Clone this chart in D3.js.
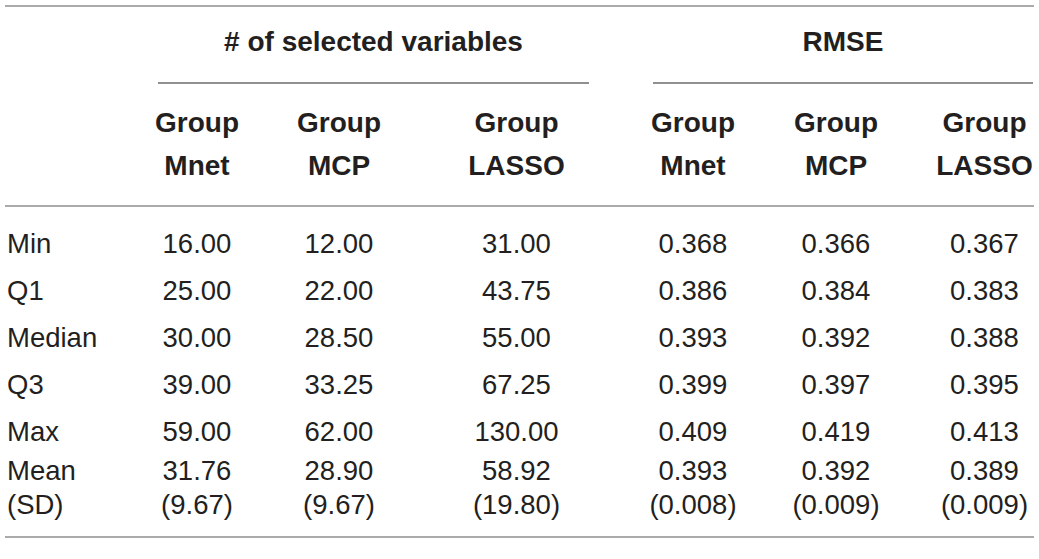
<!DOCTYPE html>
<html>
<head>
<meta charset="utf-8">
<script src="https://cdn.jsdelivr.net/npm/d3@7"></script>
<style>
  html, body { margin: 0; padding: 0; background: #fff; }
  svg { display: block; }
  text { font-family: "Liberation Sans", Arial, Helvetica, sans-serif; fill: #231f20; }
  .head { font-weight: 700; }
</style>
</head>
<body>
<div id="chart"></div>
<script>
/* Summary table: selected variables and RMSE per method. */

const groupLabels = ["# of selected variables", "RMSE"];
const methods = ["Mnet", "MCP", "LASSO"];
const rowLabels = ["Min", "Q1", "Median", "Q3", "Max", "Mean"];
const sdLabel = "(SD)";

const selMnet = [16.00, 25.00, 30.00, 39.00, 59.00, 31.76];
const selMCP = [12.00, 22.00, 28.50, 33.25, 62.00, 28.90];
const selLASSO = [31.00, 43.75, 55.00, 67.25, 130.00, 58.92];
const selSD = [9.67, 9.67, 19.80];

const rmseMnet = [0.368, 0.386, 0.393, 0.399, 0.409, 0.393];
const rmseMCP = [0.366, 0.384, 0.392, 0.397, 0.419, 0.392];
const rmseLASSO = [0.367, 0.383, 0.388, 0.395, 0.413, 0.389];
const rmseSD = [0.008, 0.009, 0.009];

const W = 1039, H = 559;
const svg = d3.select("#chart").append("svg")
  .attr("width", W).attr("height", H).attr("viewBox", `0 0 ${W} ${H}`);

// column keys: group index + method
const cols = [];
groupLabels.forEach((g, gi) => methods.forEach(m => cols.push(gi + "-" + m)));
const x = d3.scaleOrdinal().domain(cols).range([197, 339, 516.5, 693, 836, 984.5]);
const y = d3.scaleOrdinal().domain(rowLabels.concat([sdLabel]))
  .range([252.5, 300, 347, 394, 441, 480, 514]);

const fs = 27.5, fh = 28;

// rules
const rule = (x1, x2, yy, col, w) => svg.append("line")
  .attr("x1", x1).attr("x2", x2).attr("y1", yy).attr("y2", yy)
  .attr("stroke", col).attr("stroke-width", w);
rule(5, 1034, 6, "#ababab", 2);
rule(5, 1034, 206, "#ababab", 2);
rule(5, 1034, 537, "#ababab", 2);

// group headers + spanner lines
const spans = [[158, 589], [653, 1033]];
groupLabels.forEach((g, gi) => {
  const [a, b] = spans[gi];
  rule(a, b, 83, "#6b6b6b", 1.4);
  svg.append("text").attr("class", "head")
    .attr("x", (a + b) / 2).attr("y", 51).attr("text-anchor", "middle")
    .attr("font-size", fh).text(g);
});

// method headers
cols.forEach(c => {
  const m = c.split("-")[1];
  svg.append("text").attr("class", "head")
    .attr("x", x(c)).attr("y", 132).attr("text-anchor", "middle")
    .attr("font-size", fh).text("Group");
  svg.append("text").attr("class", "head")
    .attr("x", x(c)).attr("y", 175).attr("text-anchor", "middle")
    .attr("font-size", fh).text(m);
});

// row labels
rowLabels.concat([sdLabel]).forEach(r => {
  svg.append("text").attr("x", 7).attr("y", y(r))
    .attr("font-size", fs).text(r);
});

// body values
const f2 = d3.format(".2f"), f3 = d3.format(".3f");
const series = [
  { key: "0-Mnet", vals: selMnet, fmt: f2 },
  { key: "0-MCP", vals: selMCP, fmt: f2 },
  { key: "0-LASSO", vals: selLASSO, fmt: f2 },
  { key: "1-Mnet", vals: rmseMnet, fmt: f3 },
  { key: "1-MCP", vals: rmseMCP, fmt: f3 },
  { key: "1-LASSO", vals: rmseLASSO, fmt: f3 },
];
const sds = selSD.concat(rmseSD);
series.forEach((s, i) => {
  s.vals.forEach((v, j) => {
    svg.append("text").attr("x", x(s.key)).attr("y", y(rowLabels[j]))
      .attr("text-anchor", "middle").attr("font-size", fs).text(s.fmt(v));
  });
  svg.append("text").attr("x", x(s.key)).attr("y", y(sdLabel))
    .attr("text-anchor", "middle").attr("font-size", fs)
    .text("(" + s.fmt(sds[i]) + ")");
});
</script>
</body>
</html>
